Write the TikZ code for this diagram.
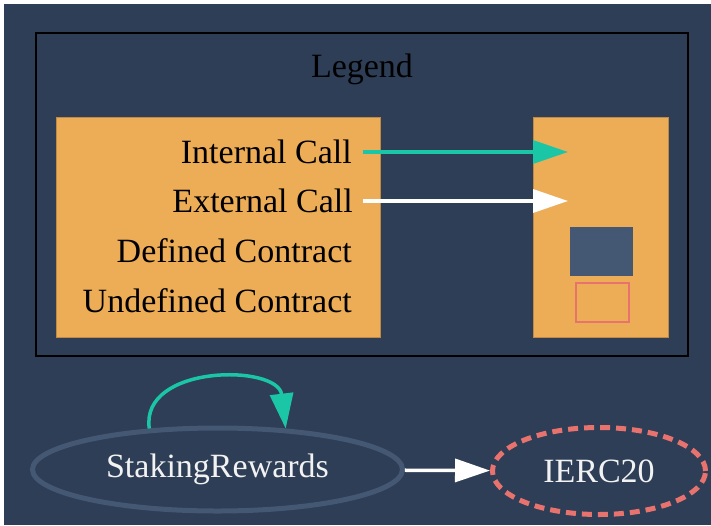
\documentclass[tikz,border=0pt]{standalone}
\usepackage{fontspec}
\setmainfont{Liberation Serif}
\usetikzlibrary{arrows.meta,shapes.geometric}
\definecolor{bg}{HTML}{2E3E56}
\definecolor{orangefill}{HTML}{EDAD56}
\definecolor{defc}{HTML}{445773}
\definecolor{undefc}{HTML}{E8726D}
\definecolor{intc}{HTML}{1BC6A6}
\definecolor{txtc}{HTML}{F2F2F2}
\tikzset{
  big/.style={font=\fontsize{34}{40}\selectfont},
  legendbox/.style={draw=black, line width=2.5pt, inner sep=0pt},
  keybox/.style={fill=orangefill, draw=orangefill!80!black, line width=0.4pt, inner sep=0pt},
  keylabel/.style={big, text=black, anchor=base east, inner sep=0pt},
  intarrow/.style={draw=intc, line width=3.5pt, -{Triangle[length=35pt,width=23pt]}},
  extarrow/.style={draw=white, line width=3.5pt, -{Triangle[length=35pt,width=23pt]}},
  contract/.style={ellipse, draw=defc, line width=5pt, fill=bg, text=txtc, big, inner sep=0pt},
  undefcontract/.style={ellipse, draw=undefc, line width=5pt, dash pattern=on 10pt off 6pt, text=txtc, big, inner sep=0pt},
}
\begin{document}
\begin{tikzpicture}[x=1pt,y=-1pt]
\useasboundingbox (0,0) rectangle (711,525);
\fill[white] (0,0) rectangle (711,525);
\fill[bg] (4,4) rectangle (711,525);
% legend cluster
\node[legendbox, minimum width=652pt, minimum height=323pt] (legend) at (362,194.5) {};
\node[big, text=black, anchor=base, inner sep=0pt] (legendtitle) at (362,77) {Legend};
\node[keybox, minimum width=324pt, minimum height=220pt] (keys) at (218,227) {};
\node[keybox, minimum width=135pt, minimum height=220pt] (vals) at (600.5,227) {};
\node[keylabel] (k1) at (352,163) {Internal Call};
\node[keylabel] (k2) at (353,212) {External Call};
\node[keylabel] (k3) at (352,262) {Defined Contract};
\node[keylabel] (k4) at (352,312) {Undefined Contract};
\coordinate (s1) at (363,152);
\coordinate (t1) at (568,152);
\coordinate (s2) at (363,201);
\coordinate (t2) at (568,201);
\draw[intarrow] (s1) -- (t1);
\draw[extarrow] (s2) -- (t2);
\node[fill=defc, minimum width=63pt, minimum height=49pt, inner sep=0pt] (defbox) at (601.5,251.5) {};
\node[draw=undefc, line width=2pt, minimum width=53pt, minimum height=39pt, inner sep=0pt] (undefbox) at (602,302) {};
% graph
\node[contract, minimum width=370pt, minimum height=83pt] (sr) at (217.5,469.5) {StakingRewards};
\node[undefcontract, minimum width=213pt, minimum height=87pt] (ierc) at (599,471) {IERC20};
\draw[extarrow] (sr) -- (ierc);
\draw[intarrow] (sr.149) .. controls (140,364) and (278,364) .. (sr.31);
\end{tikzpicture}
\end{document}
